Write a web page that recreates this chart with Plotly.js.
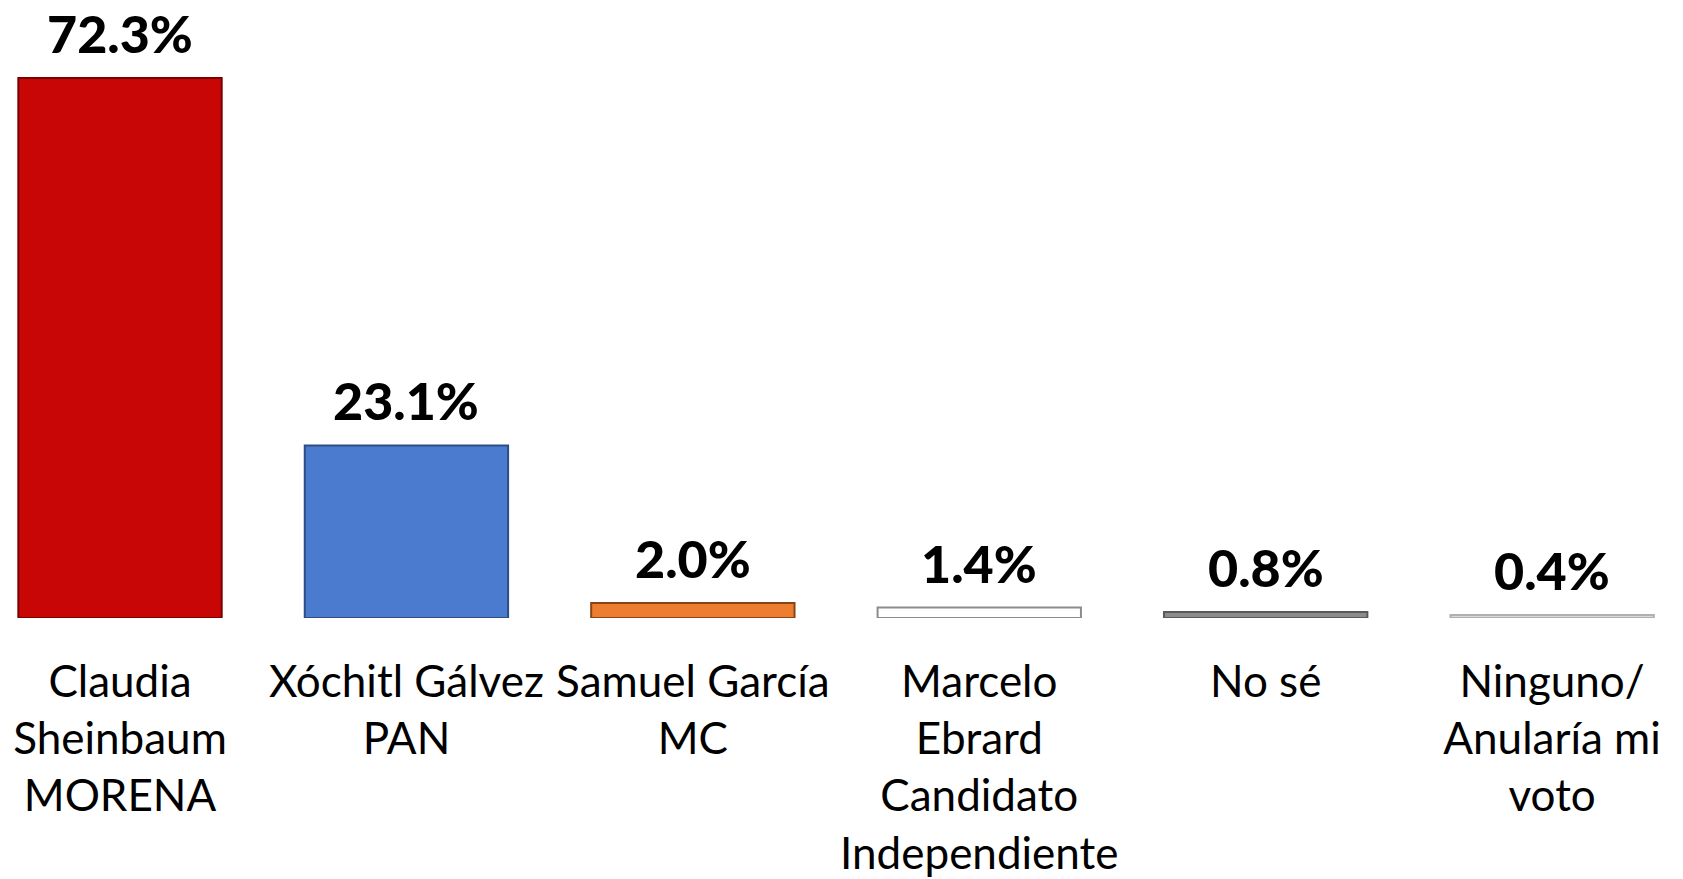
<!DOCTYPE html>
<html>
<head>
<meta charset="utf-8">
<script src="https://cdn.plot.ly/plotly-3.0.1.min.js"></script>
<style>
  html, body { margin: 0; padding: 0; background: #fff; }
  #chart { width: 1683px; height: 879px; }
</style>
</head>
<body>
<div id="chart"></div>
<script>
var categories = [
  'Claudia<br>Sheinbaum<br>MORENA',
  'Xóchitl Gálvez<br>PAN',
  'Samuel García<br>MC',
  'Marcelo<br>Ebrard<br>Candidato<br>Independiente',
  'No sé',
  'Ninguno/<br>Anularía mi<br>voto'
];
var values = [72.3, 23.1, 2.0, 1.4, 0.8, 0.4];
var valueLabels = ['72.3%', '23.1%', '2.0%', '1.4%', '0.8%', '0.4%'];
var barColors = ['#c80606', '#4a7bcf', '#ed7d31', '#ffffff', '#8c8c8c', '#d9d9d9'];
var edgeColors = ['#7a0000', '#2c4d85', '#8a4515', '#8c8c8c', '#5a5a5a', '#b0b0b0'];

var bars = {
  x: categories,
  y: values,
  type: 'bar',
  marker: {
    color: barColors,
    line: { color: edgeColors, width: 2 }
  },
  hoverinfo: 'none'
};

var labels = values.map(function (v, i) {
  return {
    x: categories[i],
    y: v,
    xref: 'x',
    yref: 'y',
    text: valueLabels[i],
    showarrow: false,
    yanchor: 'bottom',
    yshift: 12,
    font: { family: 'Lato', size: 52, weight: 900, color: '#000' }
  };
});

var layout = {
  width: 1683,
  height: 879,
  autosize: false,
  margin: { l: 0, r: 0, t: 0, b: 261 },
  paper_bgcolor: '#fff',
  plot_bgcolor: '#fff',
  showlegend: false,
  bargap: 0.29,
  font: { family: 'Lato', color: '#000' },
  xaxis: {
    range: [-0.419, 5.457],
    showline: false,
    showgrid: false,
    zeroline: false,
    ticks: '',
    tickfont: { family: 'Lato', size: 44, color: '#000' },
    ticklabelstandoff: 34
  },
  yaxis: {
    range: [0, 82.74],
    visible: false,
    showgrid: false,
    zeroline: false
  },
  annotations: labels
};

Plotly.newPlot('chart', [bars], layout, { staticPlot: true });
</script>
</body>
</html>
